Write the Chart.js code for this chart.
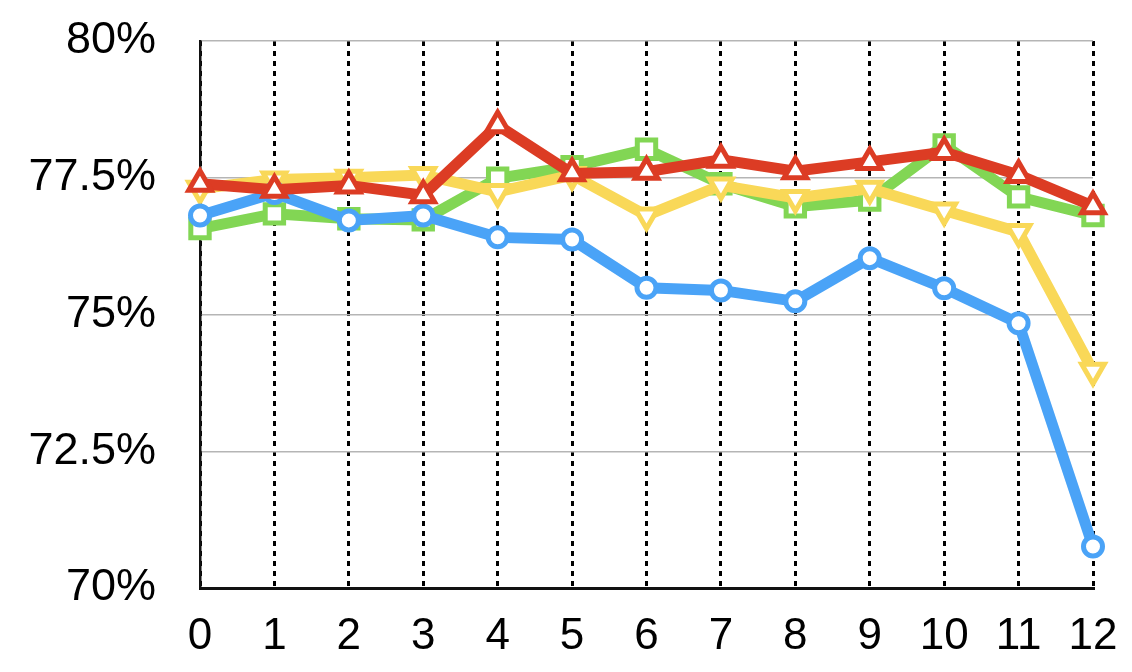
<!DOCTYPE html>
<html>
<head>
<meta charset="utf-8">
<script src="https://cdn.jsdelivr.net/npm/chart.js@4"></script>
<style>
  html, body { margin: 0; padding: 0; background: #fff; }
  canvas { display: block; }
</style>
</head>
<body>
<canvas id="chart" width="1132" height="672"></canvas>
<script>
const steps = [0, 1, 2, 3, 4, 5, 6, 7, 8, 9, 10, 11, 12];
const yTicks = [70, 72.5, 75, 77.5, 80];
const blueValues = [76.81, 77.22, 76.72, 76.81, 76.41, 76.37, 75.49, 75.44, 75.24, 76.03, 75.48, 74.84, 70.76];
const greenValues = [76.57, 76.84, 76.75, 76.73, 77.49, 77.70, 78.02, 77.39, 76.97, 77.09, 78.10, 77.15, 76.81];
const redValues = [77.39, 77.28, 77.36, 77.18, 78.46, 77.58, 77.61, 77.83, 77.62, 77.79, 77.97, 77.55, 76.98];
const yellowValues = [77.30, 77.47, 77.50, 77.55, 77.24, 77.55, 76.81, 77.36, 77.13, 77.30, 76.90, 76.51, 73.97];

const blue = "rgb(74,163,247)";
const green = "rgb(130,214,84)";
const red = "rgb(220,60,36)";
const yellow = "rgb(249,216,88)";

function toPoints(values) {
  return values.map((v, i) => ({ x: steps[i], y: v }));
}

function series(values, color, style, radius, rotation, order) {
  return {
    data: toPoints(values),
    borderColor: color,
    borderWidth: 11,
    pointStyle: style,
    pointRadius: radius,
    pointRotation: rotation,
    pointBorderWidth: 5,
    pointBackgroundColor: "#fff",
    pointBorderColor: color,
    tension: 0,
    clip: false,
    order: order,
  };
}

const ctx = document.getElementById("chart").getContext("2d");
new Chart(ctx, {
  type: "line",
  data: {
    datasets: [
      series(redValues, red, "triangle", 13, 0, 0),
      series(blueValues, blue, "circle", 9.5, 0, 1),
      series(yellowValues, yellow, "triangle", 13, 180, 2),
      series(greenValues, green, "rect", 13, 0, 3),
    ],
  },
  options: {
    responsive: false,
    animation: false,
    layout: { padding: { top: 41, right: 39, left: 0, bottom: 0 } },
    plugins: {
      legend: { display: false },
      tooltip: { enabled: false },
    },
    scales: {
      x: {
        type: "linear",
        min: 0,
        max: 12,
        afterFit: (scale) => {
          scale.height = 84;
          scale.paddingLeft = 0;
          scale.paddingRight = 0;
        },
        afterBuildTicks: (scale) => { scale.ticks = steps.map((v) => ({ value: v })); },
        grid: {
          color: "#000",
          lineWidth: 3,
          drawTicks: false,
        },
        border: { display: true, color: "#111", width: 3, dash: [5, 5] },
        ticks: {
          color: "#000",
          padding: 22,
          font: { family: "'Liberation Sans Narrow', 'Liberation Sans', sans-serif", size: 44 },
          maxRotation: 0,
          autoSkip: false,
        },
      },
      y: {
        min: 70,
        max: 80,
        afterFit: (scale) => {
          scale.width = 200;
          scale.paddingTop = 0;
          scale.paddingBottom = 0;
        },
        afterBuildTicks: (scale) => { scale.ticks = yTicks.map((v) => ({ value: v })); },
        grid: {
          color: "#b5b5b5",
          lineWidth: 1.5,
          drawTicks: false,
        },
        border: { display: true, color: "#111", width: 2.5 },
        ticks: {
          color: "#000",
          padding: 44,
          font: { family: "'Liberation Sans', Arial, sans-serif", size: 45 },
          callback: (v) => v + "%",
        },
      },
    },
  },
});
</script>
</body>
</html>
